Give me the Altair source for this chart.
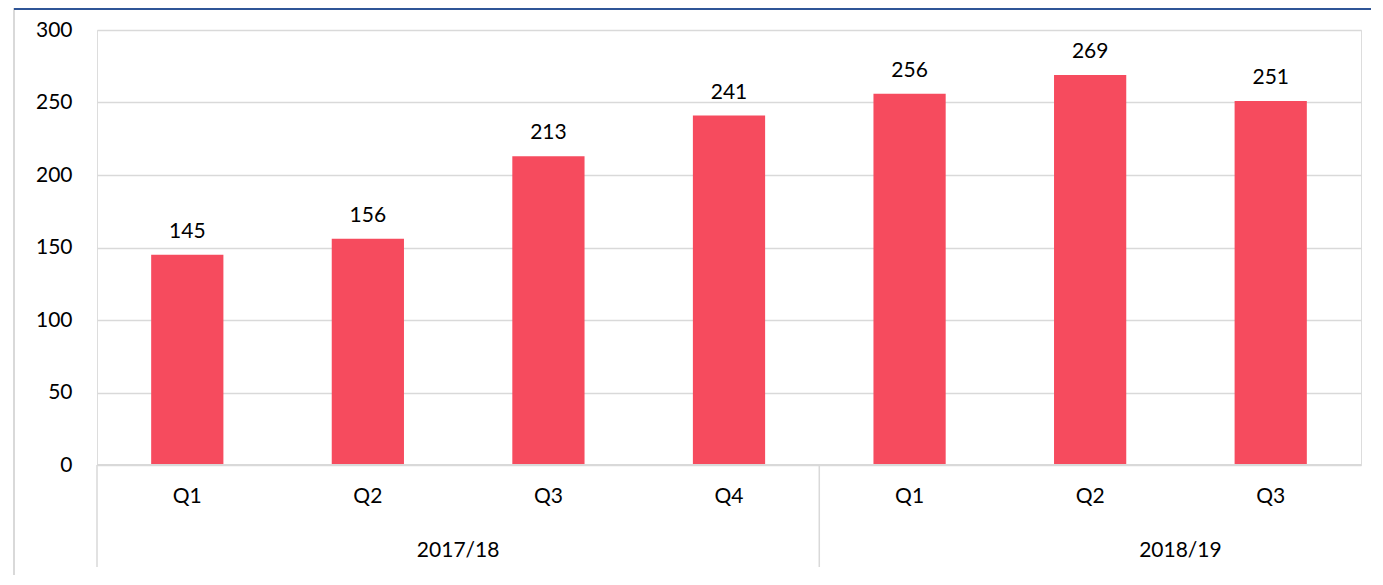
import altair as alt
import pandas as pd

years = ["2017/18", "2017/18", "2017/18", "2017/18", "2018/19", "2018/19", "2018/19"]
quarters = ["Q1", "Q2", "Q3", "Q4", "Q1", "Q2", "Q3"]
values = [145, 156, 213, 241, 256, 269, 251]
y_ticks = [0, 50, 100, 150, 200, 250, 300]

keys = [f"{y} {q}" for y, q in zip(years, quarters)]
df = pd.DataFrame({"key": keys, "year": years, "quarter": quarters, "value": values})

FONT = "Lato"
FS = 21
W, H = 1264, 435

xscale = alt.Scale(domain=keys, paddingInner=0, paddingOuter=0)
yscale = alt.Scale(domain=[0, 300], nice=False)

base = alt.Chart(df)

bars = base.mark_bar(color="#F64B5E", width={"band": 0.4}).encode(
    x=alt.X("key:N", scale=xscale, sort=keys, axis=None),
    y=alt.Y("value:Q", scale=yscale,
            axis=alt.Axis(values=y_ticks, title=None, grid=True, gridColor="#d9d9d9",
                          gridWidth=1.5, domain=False, ticks=False, labelPadding=25,
                          labelFont=FONT, labelFontSize=FS, labelColor="#000000")),
)

labels = base.mark_text(font=FONT, fontSize=FS, color="#000000", baseline="alphabetic", dy=-17).encode(
    x=alt.X("key:N", scale=xscale, sort=keys),
    y=alt.Y("value:Q", scale=yscale),
    text=alt.Text("value:Q"),
)

baseline = base.mark_rule(color="#d9d9d9", strokeWidth=1.5).encode(
    x=alt.value(0), x2=alt.value(W), y=alt.value(H)
)

qlabels = base.mark_text(font=FONT, fontSize=FS, color="#000000", baseline="middle").encode(
    x=alt.X("key:N", scale=xscale, sort=keys),
    y=alt.value(H + 32),
    text="quarter:N",
)

year_df = df[df["quarter"] == "Q2"]
ylabels = alt.Chart(year_df).mark_text(font=FONT, fontSize=FS, color="#000000", baseline="middle").encode(
    x=alt.X("key:N", scale=xscale, sort=keys, bandPosition=1),
    y=alt.value(H + 86),
    text="year:N",
)

sep_df = df[df["quarter"] == "Q1"]
seps = alt.Chart(sep_df).mark_rule(color="#d9d9d9", strokeWidth=1.5).encode(
    x=alt.X("key:N", scale=xscale, sort=keys, bandPosition=0),
    y=alt.value(H),
    y2=alt.value(H + 102),
)

frame_left = base.mark_rule(color="#d9d9d9", strokeWidth=2).encode(
    x=alt.value(-83), y=alt.value(-22), y2=alt.value(551)
)
frame_bottom = base.mark_rule(color="#d9d9d9", strokeWidth=2).encode(
    x=alt.value(-83), x2=alt.value(W + 12), y=alt.value(550)
)
frame_top = base.mark_rule(color="#2F5597", strokeWidth=2).encode(
    x=alt.value(-83), x2=alt.value(W + 12), y=alt.value(-21)
)

chart = alt.layer(frame_left, frame_bottom, frame_top, bars, labels, baseline, seps, qlabels, ylabels).properties(
    width=W, height=H,
    autosize=alt.AutoSizeParams(type="none"),
    padding={"left": 89, "top": 22, "right": 10, "bottom": 110},
).configure_view(stroke=None).configure(background="white")

chart.save("out.html", embed_options={"renderer": "svg", "actions": False})
